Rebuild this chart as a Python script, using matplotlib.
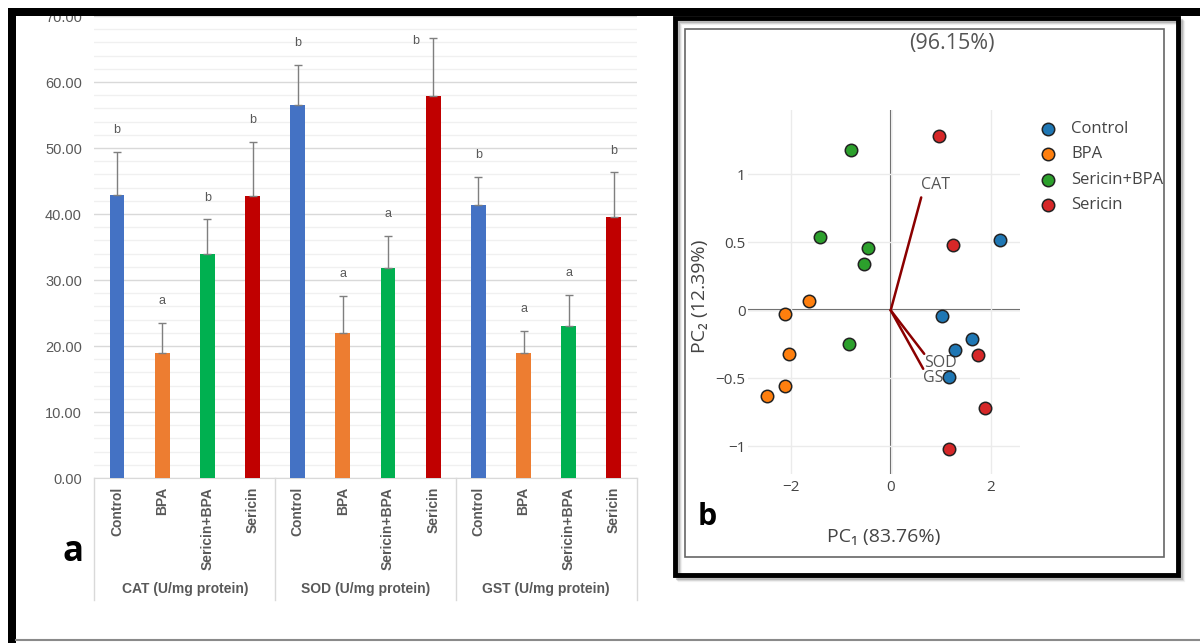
import matplotlib
matplotlib.use("Agg")
import matplotlib.pyplot as plt
from matplotlib.patches import Rectangle
from matplotlib.lines import Line2D
import matplotlib.transforms as mtransforms
import numpy as np

# ---------------- data ----------------
groups = ["Control", "BPA", "Sericin+BPA", "Sericin"]
enzymes = ["CAT (U/mg protein)", "SOD (U/mg protein)", "GST (U/mg protein)"]
bar_colors = ["#4472C4", "#ED7D31", "#00B050", "#C00000"]

cat_mean = [42.9, 19.0, 33.9, 42.7]
cat_err = [6.5, 4.5, 5.3, 8.2]
cat_letters = ["b", "a", "b", "b"]
sod_mean = [56.5, 22.0, 31.8, 57.9]
sod_err = [6.1, 5.6, 4.9, 8.7]
sod_letters = ["b", "a", "a", "b"]
gst_mean = [41.3, 19.0, 23.0, 39.5]
gst_err = [4.3, 3.3, 4.7, 6.8]
gst_letters = ["b", "a", "a", "b"]

y_ticks = [0, 10, 20, 30, 40, 50, 60, 70]

# PCA scores
control_pc1 = [2.19, 1.03, 1.63, 1.29, 1.16]
control_pc2 = [0.52, -0.04, -0.21, -0.29, -0.49]
bpa_pc1 = [-1.63, -2.11, -2.03, -2.12, -2.47]
bpa_pc2 = [0.07, -0.03, -0.32, -0.56, -0.63]
serbpa_pc1 = [-0.80, -1.41, -0.46, -0.53, -0.83]
serbpa_pc2 = [1.18, 0.54, 0.46, 0.34, -0.25]
sericin_pc1 = [0.97, 1.25, 1.75, 1.89, 1.17]
sericin_pc2 = [1.28, 0.48, -0.33, -0.72, -1.02]
pca_colors = ["#1f77b4", "#ff7f0e", "#2ca02c", "#d62728"]

loading_names = ["CAT", "SOD", "GST"]
loading_pc1 = [0.61, 0.67, 0.65]
loading_pc2 = [0.83, -0.32, -0.43]

pca_title = "(96.15%)"
pc1_label = "PC\u2081 (83.76%)"
pc2_label = "PC\u2082 (12.39%)"

# ---------------- figure ----------------
W, H = 1200, 643
fig = plt.figure(figsize=(12, 6.43), dpi=100)
fig.patch.set_facecolor("white")

def fx(px):
    return px / W

def fy(py):
    return 1 - py / H

# ---------- panel a: bar chart ----------
gray_txt = "#595959"
bar_font = ["Liberation Sans", "DejaVu Sans"]
left_px, right_px, bot_px, top_px = 94.4, 636.5, 478, 16
ax1 = fig.add_axes([fx(left_px), fy(bot_px), fx(right_px - left_px), (bot_px - top_px) / H])

means = [cat_mean, sod_mean, gst_mean]
errs = [cat_err, sod_err, gst_err]
letters = [cat_letters, sod_letters, gst_letters]

positions = []
labels = []
for gi in range(len(enzymes)):
    for ci in range(len(groups)):
        x = gi * len(groups) + ci
        positions.append(x)
        labels.append(groups[ci])
        m = means[gi][ci]
        e = errs[gi][ci]
        ax1.bar(x, m, width=0.33, color=bar_colors[ci], zorder=3)
        ax1.errorbar(x, m, yerr=[[0], [e]], fmt="none", ecolor="#7f7f7f",
                     elinewidth=1, capsize=3, capthick=1, zorder=4)
        ly = m + e + 3.3
        lx = x
        if ly > 68:
            ly = m + e - 0.4
            lx = x - 0.38
        ax1.text(lx, ly, letters[gi][ci], ha="center", va="center",
                 fontsize=9, color=gray_txt, family=bar_font)

ax1.set_xlim(-0.5, len(positions) - 0.5)
ax1.set_ylim(0, 70)
ax1.set_yticks(y_ticks)
ax1.set_yticklabels([f"{v:.2f}" for v in y_ticks], fontsize=10.5, color=gray_txt, family=bar_font)
ax1.set_yticks(np.arange(0, 71, 2), minor=True)
ax1.set_xticks(positions)
ax1.set_xticklabels(labels, rotation=90, fontsize=10, fontweight="bold", color=gray_txt, family=bar_font)
ax1.tick_params(axis="both", which="both", length=0)
ax1.tick_params(axis="y", pad=9)
ax1.tick_params(axis="x", pad=6.5)
ax1.grid(axis="y", which="major", color="#d9d9d9", lw=1, zorder=0)
ax1.grid(axis="y", which="minor", color="#f0f0f0", lw=1, zorder=0)
for s in ["top", "right", "left"]:
    ax1.spines[s].set_visible(False)
ax1.spines["bottom"].set_color("#d9d9d9")
ax1.set_facecolor("white")

trans = mtransforms.blended_transform_factory(ax1.transData, ax1.transAxes)
ax_h = bot_px - top_px
for gi, name in enumerate(enzymes):
    cx = gi * len(groups) + (len(groups) - 1) / 2
    ax1.text(cx, (bot_px - 589) / ax_h, name, transform=trans, ha="center", va="center",
             fontsize=10, fontweight="bold", color=gray_txt, family=bar_font)
for b in range(len(enzymes) + 1):
    xb = b * len(groups) - 0.5
    ax1.add_line(Line2D([xb, xb], [0, (bot_px - 600) / ax_h], transform=trans,
                        color="#d9d9d9", lw=1, clip_on=False))

# ---------- panel b: PCA ----------
pfont = ["Open Sans", "DejaVu Sans"]
ptxt = "#444444"
pl, pr, pt, pb = 748.2, 1020.2, 110.4, 473.5
ax2 = fig.add_axes([fx(pl), fy(pb), fx(pr - pl), (pb - pt) / H])
ax2.set_xlim(-2.85, 2.59)
ax2.set_ylim(-1.2, 1.47)
ax2.set_xticks([-2, 0, 2])
ax2.set_xticklabels(["\u22122", "0", "2"], fontsize=11, color=ptxt, family=pfont)
ax2.set_yticks([-1, -0.5, 0, 0.5, 1])
ax2.set_yticklabels(["\u22121", "\u22120.5", "0", "0.5", "1"], fontsize=11, color=ptxt, family=pfont)
ax2.tick_params(length=0)
ax2.tick_params(axis="x", pad=5)
ax2.tick_params(axis="y", pad=2)
ax2.grid(color="#ebebeb", lw=1, zorder=0)
ax2.axhline(0, color="#555555", lw=1.5, zorder=1)
ax2.axvline(0, color="#555555", lw=1.5, zorder=1)
for s in ax2.spines.values():
    s.set_visible(False)

score_x = [control_pc1, bpa_pc1, serbpa_pc1, sericin_pc1]
score_y = [control_pc2, bpa_pc2, serbpa_pc2, sericin_pc2]

for i in range(len(loading_names)):
    ax2.plot([0, loading_pc1[i]], [0, loading_pc2[i]], color="#8b0000", lw=1.8, zorder=2,
             solid_capstyle="round")
    va = "bottom" if loading_pc2[i] > 0 else "top"
    ax2.annotate(loading_names[i], (loading_pc1[i], loading_pc2[i]),
                 xytext=(0, 3 if loading_pc2[i] > 0 else -1), textcoords="offset points",
                 ha="left", va=va, fontsize=11.5, color="#555555", family=pfont, zorder=3)

for i in range(len(groups)):
    ax2.scatter(score_x[i], score_y[i], s=80, color=pca_colors[i], edgecolor="#222222",
                linewidth=1.1, zorder=4, clip_on=False)

# ---------- overlay: frames, titles, legend ----------
ov = fig.add_axes([0, 0, 1, 1], zorder=10)
ov.set_xlim(0, W)
ov.set_ylim(H, 0)
ov.axis("off")
ov.patch.set_alpha(0)

# outer page border
ov.add_patch(Rectangle((8, 8), W - 8, 8, color="black", lw=0))
ov.add_patch(Rectangle((8, 8), 8, H - 8, color="black", lw=0))
ov.add_line(Line2D([16, W], [640, 640], color="#8a8a8a", lw=1.5))

# panel b frame with shadow
for k, a in enumerate([0.25, 0.15, 0.08]):
    ov.add_patch(Rectangle((675 + 3 + k, 18 + 3 + k), 503, 557, fill=False,
                           edgecolor="#555555", lw=3, alpha=a))
ov.add_patch(Rectangle((675, 18), 503, 557, fill=False, edgecolor="black", lw=3.5))
ov.add_patch(Rectangle((685, 29), 479, 528, fill=False, edgecolor="#666666", lw=1.2))

ov.text(952, 44, pca_title, ha="center", va="center", fontsize=15.5, color="#555555", family=pfont)
ov.text(884, 537, pc1_label, ha="center", va="center", fontsize=14, color="#444444", family=pfont)
ov.text(700, 296, pc2_label, ha="center", va="center", rotation=90, fontsize=14,
        color="#444444", family=pfont)

# legend
leg_y = [129, 154, 180, 205]
for i, g in enumerate(groups):
    ov.scatter([1048], [leg_y[i]], s=80, color=pca_colors[i], edgecolor="#222222", linewidth=1.1)
    ov.text(1071, leg_y[i], g, ha="left", va="center", fontsize=12, color="#444444", family=pfont)

# panel letters
ov.text(73, 552, "a", ha="center", va="center", fontsize=25, fontweight="bold", color="black",
        family=pfont)
ov.text(707, 517, "b", ha="center", va="center", fontsize=22, fontweight="bold", color="black",
        family=pfont)

fig.savefig("out.png", dpi=100, facecolor="white")
